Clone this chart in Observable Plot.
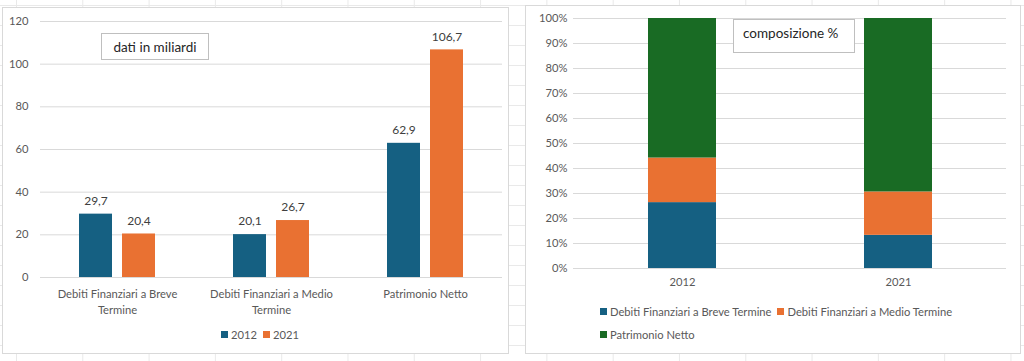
<!DOCTYPE html>
<html>
<head>
<meta charset="utf-8">
<script src="https://cdn.jsdelivr.net/npm/d3@7"></script>
<script src="https://cdn.jsdelivr.net/npm/@observablehq/plot@0.6"></script>
<style>
  html, body { margin: 0; padding: 0; }
  body {
    width: 1024px; height: 361px; overflow: hidden; position: relative;
    background-color: #ffffff;
    background-image: linear-gradient(to right, #e9e9e9 1px, transparent 1px),
                      linear-gradient(to bottom, #e9e9e9 1px, transparent 1px);
    background-size: 66.3px 20px;
    background-position: 16px 5px;
    font-family: Lato, "Open Sans", sans-serif;
  }
  .panel { position: absolute; background: #fff; border: 1px solid #d9d9d9; box-sizing: border-box; }
  .chart { position: absolute; }
  .box { position: absolute; border: 1px solid #bfbfbf; background: #fff; box-sizing: border-box;
         color: #262626; font-size: 13.5px; display: flex; align-items: center; justify-content: center; }
  .legend { position: absolute; color: #595959; font-size: 11.2px; white-space: nowrap; }
  .legend span.item { display: inline-flex; align-items: center; margin-right: 6px; }
  .legend i { display: inline-block; width: 7px; height: 7px; margin-right: 3px; }
</style>
</head>
<body>
<div class="panel" style="left:2px; top:7px; width:507px; height:347px;"></div>
<div class="panel" style="left:525px; top:5px; width:496px; height:349px;"></div>
<div id="left" class="chart" style="left:0px; top:0px;"></div>
<div id="right" class="chart" style="left:515px; top:0px;"></div>
<div class="box" style="left:101px; top:33px; width:108px; height:27px;">dati in miliardi</div>
<div class="box" style="left:733px; top:19px; width:122px; height:34px; justify-content:flex-start; padding-left:9px; padding-bottom:6px;">composizione %</div>
<div id="legendLeft" class="legend" style="left:221px; top:327px;"></div>
<div id="legendRight1" class="legend" style="left:600px; top:304px;"></div>
<div id="legendRight2" class="legend" style="left:600px; top:327px;"></div>
<script>
// ---- data ----
const categories = ["Debiti Finanziari a Breve Termine", "Debiti Finanziari a Medio Termine", "Patrimonio Netto"];
const categoryTickLabels = ["Debiti Finanziari a Breve\nTermine", "Debiti Finanziari a Medio\nTermine", "Patrimonio Netto"];
const years = ["2012", "2021"];
const values2012 = [29.7, 20.1, 62.9];
const values2021 = [20.4, 26.7, 106.7];
const yTicks = [0, 20, 40, 60, 80, 100, 120];
const pctTicks = [0, 0.1, 0.2, 0.3, 0.4, 0.5, 0.6, 0.7, 0.8, 0.9, 1];
const yearColors = ["#156082", "#E97132"];
const seriesColors = ["#156082", "#E97132", "#196B24"];

// ---- tables built from the arrays ----
const valuesByYear = {"2012": values2012, "2021": values2021};
const rows = [];
categories.forEach((c, i) => years.forEach(y => rows.push({category: c, year: y, value: valuesByYear[y][i]})));
const fmt = v => d3.format(".1f")(v).replace(".", ",");

const style = {fontFamily: "Lato, 'Open Sans', sans-serif", fontSize: "11.2px", color: "#595959", background: "transparent", overflow: "visible"};

// ---- left: grouped bars ----
const left = Plot.plot({
  width: 510, height: 320,
  marginLeft: 40, marginRight: 8, marginTop: 21, marginBottom: 43,
  style,
  fx: {domain: categories, padding: 0, label: null},
  x: {domain: years, axis: null, paddingInner: 0.227, paddingOuter: 0.864},
  y: {domain: [0, 120], ticks: yTicks, tickSize: 0, tickPadding: 12, label: null, tickFormat: d => String(d)},
  color: {domain: years, range: yearColors},
  marks: [
    Plot.ruleY(yTicks, {stroke: "#d9d9d9", strokeWidth: 1}),
    Plot.barY(rows, {fx: "category", x: "year", y: "value", fill: "year"}),
    Plot.text(rows, {fx: "category", x: "year", y: "value", text: d => fmt(d.value), dy: -13, fill: "#404040", fontSize: 12}),
    Plot.axisFx({anchor: "bottom", tickSize: 0, tickPadding: 10, label: null, lineHeight: 1.38,
                 tickFormat: d => categoryTickLabels[categories.indexOf(d)]})
  ]
});
document.getElementById("left").appendChild(left);

// ---- right: 100% stacked ----
const stackRows = [];
categories.forEach((c, i) => years.forEach(y => stackRows.push({series: c, year: y, value: valuesByYear[y][i]})));
const right = Plot.plot({
  width: 500, height: 300,
  marginLeft: 58, marginRight: 9, marginTop: 18, marginBottom: 32,
  style,
  x: {domain: years, paddingInner: 0.686, paddingOuter: 0.343, tickSize: 0, tickPadding: 10, label: null},
  y: {domain: [0, 1], ticks: pctTicks, tickFormat: d3.format(".0%"), tickSize: 0, tickPadding: 6, label: null},
  color: {domain: categories, range: seriesColors},
  marks: [
    Plot.ruleY(pctTicks, {stroke: "#d9d9d9", strokeWidth: 1}),
    Plot.barY(stackRows, Plot.stackY({x: "year", y: "value", fill: "series", offset: "normalize"}))
  ]
});
document.getElementById("right").appendChild(right);

// ---- legends ----
function item(label, color) {
  return `<span class="item"><i style="background:${color}"></i>${label}</span>`;
}
document.getElementById("legendLeft").innerHTML = years.map((y, i) => item(y, yearColors[i])).join("");
document.getElementById("legendRight1").innerHTML = item(categories[0], seriesColors[0]) + item(categories[1], seriesColors[1]);
document.getElementById("legendRight2").innerHTML = item(categories[2], seriesColors[2]);
</script>
</body>
</html>
